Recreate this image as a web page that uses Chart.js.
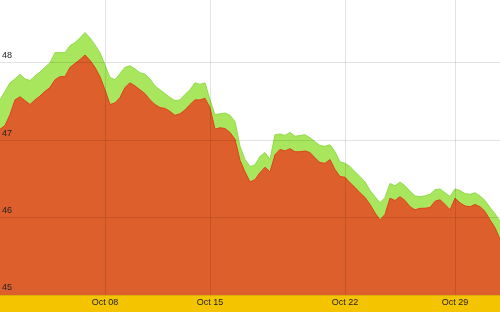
<!DOCTYPE html>
<html>
<head>
<meta charset="utf-8">
<script src="https://cdn.jsdelivr.net/npm/chart.js@4"></script>
<style>
html,body{margin:0;padding:0;background:#fff;}
#wrap{width:500px;height:312px;}
</style>
</head>
<body>
<div id="wrap"><canvas id="c" width="500" height="312"></canvas></div>
<script>
// tick labels and the sample index where each one sits
const tickLabels = ['Oct 08', 'Oct 15', 'Oct 22', 'Oct 29'];
const tickIndex = [21, 42, 69, 91];

// upper series (green)
const highValues = [
 47.52,47.63,47.74,47.79,47.85,47.79,47.77,47.83,47.88,47.94,
 48.00,48.13,48.13,48.13,48.22,48.26,48.32,48.39,48.32,48.23,
 48.13,47.97,47.81,47.78,47.86,47.94,47.96,47.92,47.87,47.85,
 47.79,47.70,47.65,47.60,47.55,47.51,47.52,47.59,47.65,47.74,
 47.72,47.74,47.52,47.33,47.34,47.35,47.32,47.24,46.92,46.75,
 46.66,46.68,46.79,46.84,46.75,47.07,47.08,47.06,47.10,47.05,
 47.06,47.07,47.03,46.98,46.93,46.92,46.94,46.85,46.72,46.70,
 46.66,46.59,46.53,46.46,46.35,46.27,46.19,46.26,46.44,46.41,
 46.46,46.41,46.34,46.28,46.27,46.28,46.30,46.36,46.37,46.32,
 46.27,46.37,46.35,46.31,46.30,46.32,46.28,46.22,46.13,46.05,
 45.95
];
// lower series (orange)
const lowValues = [
 47.14,47.19,47.33,47.52,47.56,47.51,47.46,47.52,47.57,47.63,
 47.68,47.78,47.82,47.82,47.94,47.99,48.04,48.10,48.03,47.94,
 47.82,47.65,47.46,47.48,47.55,47.68,47.74,47.70,47.65,47.60,
 47.52,47.46,47.42,47.41,47.37,47.32,47.34,47.39,47.46,47.52,
 47.52,47.54,47.42,47.14,47.16,47.15,47.10,47.01,46.74,46.59,
 46.46,46.49,46.58,46.65,46.59,46.81,46.88,46.86,46.89,46.85,
 46.85,46.86,46.84,46.77,46.71,46.70,46.75,46.62,46.53,46.52,
 46.45,46.39,46.32,46.26,46.17,46.06,45.97,46.04,46.25,46.22,
 46.27,46.22,46.14,46.10,46.12,46.12,46.13,46.21,46.23,46.17,
 46.10,46.25,46.19,46.15,46.14,46.17,46.14,46.08,45.97,45.87,
 45.72
];

const yMin = 45, yMax = 48.81;

const labels = highValues.map(() => '');
tickIndex.forEach((idx, k) => { labels[idx] = tickLabels[k]; });

const bgPlugin = {
  id: 'bg',
  beforeDraw(chart) {
    const {ctx, chartArea, width, height} = chart;
    ctx.save();
    ctx.fillStyle = '#ffffff';
    ctx.fillRect(0, 0, width, height);
    ctx.fillStyle = '#f5c400';
    ctx.fillRect(0, chartArea.bottom, width, height - chartArea.bottom);
    ctx.restore();
  }
};

function noPad(axis) {
  axis.paddingLeft = 0; axis.paddingRight = 0;
  axis.paddingTop = 0; axis.paddingBottom = 0;
}

new Chart(document.getElementById('c'), {
  type: 'line',
  data: {
    labels: labels,
    datasets: [
      {
        label: 'Low',
        data: lowValues,
        borderColor: '#e0401c',
        borderWidth: 1,
        backgroundColor: '#dd5f2b',
        fill: 'start',
        pointRadius: 0,
        tension: 0
      },
      {
        label: 'High',
        data: highValues,
        borderColor: '#90dc48',
        borderWidth: 1,
        backgroundColor: '#a8e65e',
        fill: 'start',
        pointRadius: 0,
        tension: 0
      }
    ]
  },
  options: {
    responsive: false,
    animation: false,
    devicePixelRatio: 1,
    layout: { padding: 0 },
    plugins: { legend: { display: false }, tooltip: { enabled: false } },
    scales: {
      x: {
        type: 'category',
        offset: false,
        afterBuildTicks: (axis) => { axis.ticks = tickIndex.map(v => ({ value: v })); },
        afterFit: (axis) => { noPad(axis); axis.height = 17; },
        grid: { color: 'rgba(0,0,0,0.11)', drawTicks: false, z: 1 },
        border: { display: false },
        ticks: {
          autoSkip: false,
          maxRotation: 0,
          padding: 2,
          z: 2,
          color: '#222',
          font: { family: 'Liberation Sans, Arial, sans-serif', size: 9 }
        }
      },
      y: {
        min: yMin,
        max: yMax,
        afterFit: (axis) => { noPad(axis); axis.width = 0; },
        grid: { color: 'rgba(0,0,0,0.11)', drawTicks: false, z: 1 },
        border: { display: false },
        ticks: {
          stepSize: 1,
          includeBounds: false,
          mirror: true,
          padding: 2,
          labelOffset: -7,
          z: 2,
          color: '#222',
          font: { family: 'Liberation Sans, Arial, sans-serif', size: 9 }
        }
      }
    }
  },
  plugins: [bgPlugin]
});
</script>
</body>
</html>
